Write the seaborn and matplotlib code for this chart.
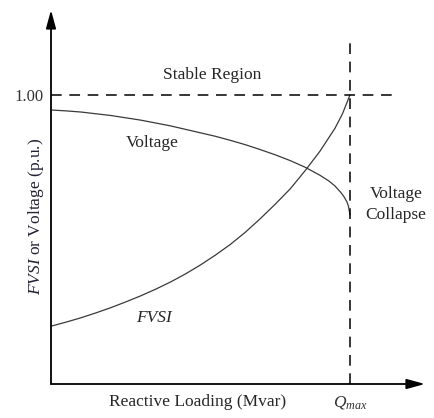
import matplotlib
matplotlib.use("Agg")
import matplotlib.pyplot as plt
import seaborn as sns
import pandas as pd

# reactive loading as a fraction of Qmax
q_voltage = [0.0, 0.05, 0.1, 0.15, 0.2, 0.25, 0.3, 0.35, 0.4, 0.45, 0.5, 0.55, 0.6,
             0.65, 0.7, 0.75, 0.8, 0.85, 0.9, 0.93, 0.95, 0.97, 0.98, 0.99, 0.995, 1.0]
voltage = [0.948, 0.945, 0.941, 0.935, 0.929, 0.921, 0.913, 0.903, 0.893, 0.881,
           0.869, 0.857, 0.843, 0.828, 0.811, 0.793, 0.773, 0.750, 0.722, 0.702,
           0.685, 0.662, 0.648, 0.630, 0.615, 0.585]

q_fvsi = [0.0, 0.05, 0.1, 0.15, 0.2, 0.25, 0.3, 0.35, 0.4, 0.45, 0.5, 0.55, 0.6,
          0.65, 0.7, 0.75, 0.8, 0.85, 0.9, 0.95, 0.975, 1.0]
fvsi = [0.200, 0.214, 0.229, 0.246, 0.264, 0.284, 0.305, 0.328, 0.353, 0.381,
        0.412, 0.446, 0.483, 0.525, 0.572, 0.622, 0.675, 0.738, 0.806, 0.885,
        0.935, 1.000]

stable_limit = 1.0
q_max = 1.0
y_tick_labels = ["1.00"]

sns.set_theme(style="white")
plt.rcParams["font.family"] = ["Liberation Serif", "DejaVu Serif"]
plt.rcParams["mathtext.fontset"] = "custom"
plt.rcParams["mathtext.rm"] = "Liberation Serif"
plt.rcParams["mathtext.it"] = "Liberation Serif:italic"

df_v = pd.DataFrame({"Q": q_voltage, "value": voltage})
df_f = pd.DataFrame({"Q": q_fvsi, "value": fvsi})

fig = plt.figure(figsize=(4.35, 4.18), dpi=100)
ax = fig.add_axes([51 / 435, 34 / 418, 374 / 435, 374 / 418])

line_kw = dict(color="#3a3a3a", linewidth=0.9, estimator=None, sort=False)
sns.lineplot(data=df_v, x="Q", y="value", ax=ax, **line_kw)
sns.lineplot(data=df_f, x="Q", y="value", ax=ax, **line_kw)
ax.set_xlabel("")
ax.set_ylabel("")

ax.set_xlim(0, 1.251)
ax.set_ylim(0, 1.294)

# dashed limit lines
ax.plot([0, 1.157], [stable_limit, stable_limit], color="black", lw=1.1,
        dashes=(7, 5))
ax.plot([q_max, q_max], [0, 1.197], color="black", lw=1.1, dashes=(7, 5))

# axes drawn as arrows
for s in ax.spines.values():
    s.set_visible(False)
arrow = dict(arrowstyle="-|>,head_length=0.55,head_width=0.15", color="black",
             lw=1.3, shrinkA=0, shrinkB=0, mutation_scale=20)
ax.annotate("", xy=(1, 0), xytext=(0, 0), xycoords="axes fraction",
            textcoords="axes fraction", arrowprops=arrow, annotation_clip=False)
ax.annotate("", xy=(0, 1), xytext=(0, 0), xycoords="axes fraction",
            textcoords="axes fraction", arrowprops=arrow, annotation_clip=False)

ax.set_yticks([stable_limit])
ax.set_yticklabels(y_tick_labels, fontsize=12, color="#333333")
ax.set_xticks([q_max])
ax.set_xticklabels([r"$Q_{max}$"], fontsize=12.5, color="#333333")
ax.tick_params(axis="both", length=0)
ax.tick_params(axis="y", pad=5)
ax.tick_params(axis="x", pad=7)

ax.text(0.54, 1.07, "Stable Region", fontsize=12.5, ha="center", va="center")
ax.text(0.338, 0.835, "Voltage", fontsize=12.5, ha="center", va="center")
ax.text(0.345, 0.23, "FVSI", fontsize=12.5, ha="center", va="center",
        style="italic")
ax.text(1.154, 0.62, "Voltage\nCollapse", fontsize=12.5, ha="center",
        va="center", linespacing=1.4)

fig.text(198 / 435, 1 - 402 / 418, "Reactive Loading (Mvar)", fontsize=12.5,
         ha="center", va="center")
fig.text(36 / 435, 1 - 216 / 418, r"$\mathit{FVSI}$ or Voltage (p.u.)",
         fontsize=12.5, ha="center", va="center", rotation=90, color="#222233")

fig.savefig("out.png", dpi=100)
